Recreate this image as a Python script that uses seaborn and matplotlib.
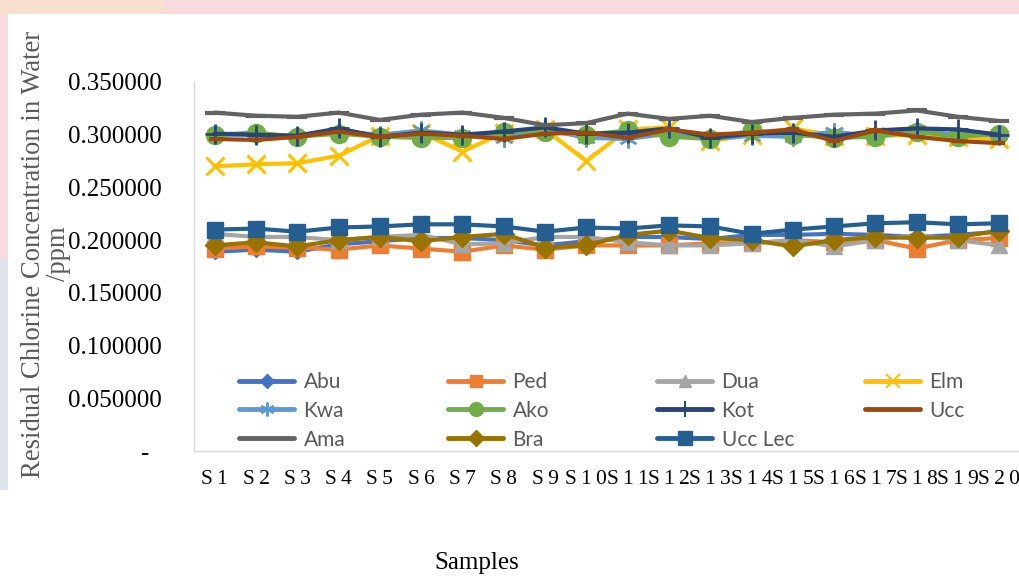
import matplotlib
matplotlib.use("Agg")
import matplotlib.pyplot as plt
from matplotlib.lines import Line2D
from matplotlib.patches import Rectangle
import seaborn as sns
import numpy as np

samples = [f"S{i}" for i in range(1, 21)]

abu = [0.189, 0.191, 0.189, 0.196, 0.199, 0.202, 0.202, 0.200, 0.195, 0.199,
       0.203, 0.203, 0.201, 0.205, 0.205, 0.206, 0.205, 0.203, 0.205, 0.208]
ped = [0.192, 0.194, 0.193, 0.191, 0.195, 0.192, 0.189, 0.195, 0.191, 0.195,
       0.195, 0.195, 0.197, 0.197, 0.200, 0.198, 0.200, 0.192, 0.200, 0.202]
dua = [0.206, 0.203, 0.203, 0.200, 0.203, 0.205, 0.196, 0.197, 0.203, 0.203,
       0.198, 0.195, 0.195, 0.197, 0.200, 0.194, 0.200, 0.205, 0.200, 0.195]
elm = [0.270, 0.272, 0.273, 0.280, 0.299, 0.302, 0.284, 0.302, 0.305, 0.275,
       0.305, 0.307, 0.294, 0.300, 0.306, 0.299, 0.299, 0.300, 0.298, 0.296]
kwa = [0.300, 0.300, 0.299, 0.303, 0.300, 0.304, 0.300, 0.297, 0.305, 0.297,
       0.296, 0.301, 0.296, 0.299, 0.298, 0.303, 0.298, 0.304, 0.300, 0.300]
ako = [0.300, 0.302, 0.298, 0.301, 0.298, 0.297, 0.297, 0.303, 0.303, 0.300,
       0.304, 0.298, 0.296, 0.304, 0.300, 0.297, 0.298, 0.303, 0.298, 0.301]
kot = [0.301, 0.300, 0.299, 0.306, 0.298, 0.302, 0.300, 0.303, 0.307, 0.301,
       0.302, 0.306, 0.297, 0.301, 0.302, 0.298, 0.304, 0.306, 0.305, 0.300]
ucc = [0.296, 0.295, 0.298, 0.303, 0.298, 0.301, 0.299, 0.296, 0.301, 0.302,
       0.297, 0.305, 0.300, 0.302, 0.305, 0.294, 0.304, 0.298, 0.294, 0.292]
ama = [0.321, 0.318, 0.317, 0.321, 0.314, 0.319, 0.321, 0.316, 0.309, 0.311,
       0.320, 0.315, 0.318, 0.312, 0.316, 0.319, 0.320, 0.323, 0.317, 0.313]
bra = [0.195, 0.198, 0.194, 0.200, 0.203, 0.199, 0.203, 0.206, 0.193, 0.195,
       0.205, 0.209, 0.202, 0.200, 0.194, 0.200, 0.203, 0.202, 0.203, 0.209]
ucc_lec = [0.210, 0.211, 0.208, 0.212, 0.213, 0.215, 0.215, 0.213, 0.208, 0.212,
           0.211, 0.214, 0.213, 0.206, 0.210, 0.213, 0.216, 0.217, 0.215, 0.216]

series_names = ["Abu", "Ped", "Dua", "Elm", "Kwa", "Ako", "Kot", "Ucc", "Ama", "Bra", "Ucc Lec"]
series_vals = [abu, ped, dua, elm, kwa, ako, kot, ucc, ama, bra, ucc_lec]

y_ticks = [0.0, 0.05, 0.10, 0.15, 0.20, 0.25, 0.30, 0.35]
y_tick_labels = ["-  ", "0.050000", "0.100000", "0.150000", "0.200000",
                 "0.250000", "0.300000", "0.350000"]

colors = ["#4472C4", "#ED7D31", "#A5A5A5", "#FFC000", "#5B9BD5", "#70AD47",
          "#264478", "#9E480E", "#636363", "#997300", "#255E91"]
markers = ["D", "s", "^", "x", (6, 2, 0), "o", "+", "_", "_", "D", "s"]
msizes = [7, 11, 11, 13, 13, 13, 14, 8, 14, 10, 12]
mews = [1, 1, 1, 2.2, 1.6, 1, 2.0, 3, 3, 1, 1]

sns.set_theme(style="white")
plt.rcParams["font.family"] = ["Liberation Serif", "DejaVu Serif"]

fig = plt.figure(figsize=(10.2, 5.77), dpi=100)
fig.patch.set_facecolor("white")
# faint watermark band at the top and left edges
fig.patches.append(Rectangle((0, 1 - 14 / 577), 1, 14 / 577, transform=fig.transFigure,
                             facecolor="#f8dcdd", edgecolor="none", zorder=-5))
fig.patches.append(Rectangle((0, 1 - 14 / 577), 0.16, 14 / 577, transform=fig.transFigure,
                             facecolor="#f8e0cf", edgecolor="none", zorder=-4))
fig.patches.append(Rectangle((0, 0.55), 8 / 1020, 0.45, transform=fig.transFigure,
                             facecolor="#f8dcdd", edgecolor="none", zorder=-5))
fig.patches.append(Rectangle((0, 0.15), 8 / 1020, 0.40, transform=fig.transFigure,
                             facecolor="#dfe3ec", edgecolor="none", zorder=-5))

ax = fig.add_axes([194 / 1020, 1 - 451 / 577, 1 - 194 / 1020, (451 - 82) / 577])

for i, (name, vals) in enumerate(zip(series_names, series_vals)):
    sns.lineplot(x=samples, y=vals, ax=ax, color=colors[i], marker=markers[i],
                 markersize=msizes[i], markeredgewidth=mews[i],
                 markeredgecolor=colors[i], markerfacecolor=colors[i],
                 linewidth=3.0, zorder=3 + i, label=None, legend=False)

ax.set_xlim(-0.5, len(samples) - 0.5)
ax.set_ylim(0, 0.35)
ax.set_yticks(y_ticks)
ax.set_yticklabels(y_tick_labels, fontsize=18, color="black")
ax.set_xticks(range(len(samples)))
ax.set_xticklabels(["\u2009".join(s) for s in samples], fontsize=15.5, color="black")
ax.tick_params(axis="y", length=0, pad=23)
ax.tick_params(axis="x", length=0, pad=14)
ax.set_xlabel("")
ax.set_ylabel("")
for side in ["top", "right"]:
    ax.spines[side].set_visible(False)
for side in ["left", "bottom"]:
    ax.spines[side].set_color("#d9d9d9")
    ax.spines[side].set_linewidth(1.0)
ax.grid(False)

fig.text(46 / 1020, 1 - 254 / 577, "Residual Chlorine Concentration in Water\n/ppm",
         rotation=90, ha="center", va="center", multialignment="center",
         fontsize=19.2, color="#595959", linespacing=1.05)
fig.text(477 / 1020, 1 - 563 / 577, "Samples", ha="center", va="center",
         fontsize=18, color="black")

# legend: four columns, placed like the reference (row-wise order)
leg_ms = [7, 9, 9, 10, 10, 10, 11, 6, 10, 8, 10]
handles = [Line2D([], [], color=colors[i], marker=markers[i], markersize=leg_ms[i],
                  markeredgewidth=1.4 if markers[i] in ("x", "+") or isinstance(markers[i], tuple) else 1,
                  markerfacecolor=colors[i], markeredgecolor=colors[i], linewidth=3.5,
                  solid_capstyle="round")
           for i in range(len(series_names))]
col_x = [239, 448, 657, 865]
for c in range(4):
    idx = [c + 4 * r for r in range(3) if c + 4 * r < len(series_names)]
    leg = fig.legend([handles[k] for k in idx], [series_names[k] for k in idx],
                     loc="upper left", bbox_to_anchor=(col_x[c] / 1020, 1 - 372 / 577),
                     frameon=False, ncol=1, borderpad=0, borderaxespad=0,
                     handlelength=2.65, handletextpad=0.45, labelspacing=0.42,
                     prop={"family": "Lato", "size": 15}, labelcolor="#595959")

fig.savefig("out.png", dpi=100, facecolor=fig.get_facecolor())
